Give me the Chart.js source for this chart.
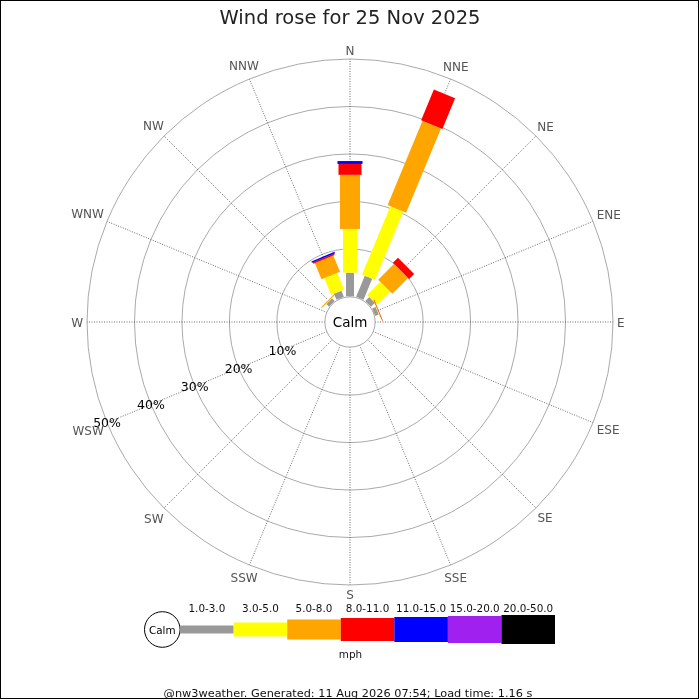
<!DOCTYPE html>
<html>
<head>
<meta charset="utf-8">
<title>Wind rose</title>
<script src="https://cdn.jsdelivr.net/npm/chart.js@4/dist/chart.umd.min.js"></script>
<style>
    html, body { margin: 0; padding: 0; background: #fff; }
    #wrap { width: 700px; height: 700px; }
</style>
</head>
<body>
<div id="wrap"><canvas id="rose" width="700" height="700"></canvas></div>
<script>
// Wind rose, 25 Nov 2025 - percentage of time per direction and speed band

const directions = ['N', 'NNE', 'NE', 'ENE', 'E', 'ESE', 'SE', 'SSE', 'S', 'SSW', 'SW', 'WSW', 'W', 'WNW', 'NW', 'NNW'];
const speedBands = ['1.0-3.0', '3.0-5.0', '5.0-8.0', '8.0-11.0', '11.0-15.0', '15.0-20.0', '20.0-50.0'];

// % of time, one value per direction (N first, clockwise)
const speed1to3   = [5.0, 4.8, 1.2, 0.8, 0, 0, 0, 0, 0, 0, 0, 0, 0, 0, 0.8, 1.4];
const speed3to5   = [9.2, 15.6, 3.9, 0.1, 0, 0, 0, 0, 0, 0, 0, 0, 0, 0, 0.1, 3.8];
const speed5to8   = [11.4, 19.2, 4.7, 0.1, 0, 0, 0, 0, 0, 0, 0, 0, 0, 0, 0.2, 3.7];
const speed8to11  = [2.3, 7.0, 1.5, 0.1, 0, 0, 0, 0, 0, 0, 0, 0, 0, 0, 0, 0.3];
const speed11to15 = [0.6, 0, 0, 0, 0, 0, 0, 0, 0, 0, 0, 0, 0, 0, 0, 0.3];
const speed15to20 = [0, 0, 0, 0, 0, 0, 0, 0, 0, 0, 0, 0, 0, 0, 0, 0];
const speed20to50 = [0, 0, 0, 0, 0, 0, 0, 0, 0, 0, 0, 0, 0, 0, 0, 0];

const ringTicks = [10, 20, 30, 40, 50];

const bandColors = ['#999999', '#ffff00', '#ffa500', '#ff0000', '#0000ff', '#a020f0', '#000000'];
const bandWidths = [8, 14, 20, 23, 25, 27, 29];

Chart.defaults.font.family = 'DejaVu Sans';

const FONT = 'DejaVu Sans';
const TEXT_DY = 1.5; // 'middle' baseline sits a touch high for DejaVu

const windRosePlugin = {
    id: 'windRose',
    beforeDraw(chart) {
        const ctx = chart.ctx;
        ctx.save();
        ctx.fillStyle = '#fff';
        ctx.fillRect(0, 0, chart.width, chart.height);
        ctx.restore();
    },
    afterDatasetsDraw(chart) {
        const ctx = chart.ctx;
        const scale = chart.scales.r;

        // stacked bars, one rectangle per speed band
        directions.forEach((dir, i) => {
            let base = 0;
            chart.data.datasets.forEach((ds, b) => {
                const v = ds.data[i];
                if (v > 0) {
                    const r0 = scale.getDistanceFromCenterForValue(base);
                    const r1 = scale.getDistanceFromCenterForValue(base + v);
                    const w = bandWidths[b];
                    ctx.save();
                    ctx.translate(scale.xCenter, scale.yCenter);
                    ctx.rotate(scale.getIndexAngle(i));
                    ctx.fillStyle = bandColors[b];
                    ctx.fillRect(-w / 2, -r1, w, r1 - r0);
                    ctx.restore();
                }
                base += v;
            });
        });

        // calm circle in the middle
        const calmR = scale.getDistanceFromCenterForValue(0);
        ctx.save();
        ctx.beginPath();
        ctx.arc(scale.xCenter, scale.yCenter, calmR - 0.5, 0, Math.PI * 2);
        ctx.fillStyle = '#fff';
        ctx.fill();
        ctx.strokeStyle = '#aaa';
        ctx.lineWidth = 1;
        ctx.stroke();
        ctx.fillStyle = '#000';
        ctx.font = '13.5px ' + FONT;
        ctx.textAlign = 'center';
        ctx.textBaseline = 'middle';
        ctx.fillText('Calm', scale.xCenter, scale.yCenter + TEXT_DY);

        // ring labels along the WSW spoke
        const wsw = directions.indexOf('WSW');
        ctx.font = '12.5px ' + FONT;
        ringTicks.forEach(t => {
            const p = scale.getPointPosition(wsw, scale.getDistanceFromCenterForValue(t));
            ctx.fillText(t + '%', p.x, p.y + TEXT_DY);
        });

        // compass labels
        ctx.font = '12px ' + FONT;
        ctx.fillStyle = '#555';
        directions.forEach((dir, i) => {
            const a = scale.getIndexAngle(i);
            const w = ctx.measureText(dir).width;
            const r = scale.drawingArea + 4 + Math.abs(Math.sin(a)) * w / 2 + Math.abs(Math.cos(a)) * 5;
            const p = scale.getPointPosition(i, r);
            ctx.fillText(dir, p.x, p.y + TEXT_DY);
        });
        ctx.restore();
    },
    afterDraw(chart) {
        const ctx = chart.ctx;
        ctx.save();

        // speed legend
        const cy = 629.5;
        const calmX = 162.3, calmR = 17.8;
        ctx.beginPath();
        ctx.arc(calmX, cy, calmR, 0, Math.PI * 2);
        ctx.strokeStyle = '#000';
        ctx.lineWidth = 1;
        ctx.stroke();
        ctx.fillStyle = '#000';
        ctx.font = '10.4px ' + FONT;
        ctx.textAlign = 'center';
        ctx.textBaseline = 'middle';
        ctx.fillText('Calm', calmX, cy + TEXT_DY);

        const x0 = calmX + calmR;
        const segW = (555 - x0) / speedBands.length;
        speedBands.forEach((band, b) => {
            const x = x0 + b * segW;
            const h = bandWidths[b];
            ctx.fillStyle = bandColors[b];
            ctx.fillRect(x, cy - h / 2, segW, h);
            ctx.fillStyle = '#111';
            ctx.fillText(band, x + segW / 2, 607.5 + TEXT_DY);
        });
        ctx.fillText('mph', 350.5, 653.5 + TEXT_DY);

        // footer
        ctx.font = '11.3px ' + FONT;
        ctx.fillStyle = '#111';
        ctx.fillText('@nw3weather. Generated: 11 Aug 2026 07:54; Load time: 1.16 s', 348, 692.5 + TEXT_DY);

        // frame
        ctx.strokeStyle = '#000';
        ctx.lineWidth = 1;
        ctx.strokeRect(0.5, 0.5, 698, 698);
        ctx.restore();
    }
};

const speedSeries = [speed1to3, speed3to5, speed5to8, speed8to11, speed11to15, speed15to20, speed20to50];

new Chart(document.getElementById('rose'), {
    type: 'radar',
    data: {
        labels: directions,
        datasets: speedSeries.map((values, b) => ({
            label: speedBands[b],
            data: values,
            borderColor: 'transparent',
            backgroundColor: 'transparent',
            pointRadius: 0,
            pointHoverRadius: 0,
            showLine: false,
            fill: false
        }))
    },
    options: {
        responsive: false,
        animation: false,
        events: [],
        layout: {
            padding: { left: 87, right: 87, top: 0, bottom: 115 }
        },
        plugins: {
            legend: { display: false },
            tooltip: { enabled: false },
            title: {
                display: true,
                text: 'Wind rose for 25 Nov 2025',
                color: '#222',
                font: { size: 19.5, weight: 'normal' },
                padding: { top: 7.5, bottom: 28.1 }
            }
        },
        scales: {
            r: {
                min: -5.4,
                max: 50,
                afterBuildTicks(scale) {
                    scale.ticks = ringTicks.map(v => ({ value: v }));
                },
                ticks: { display: false },
                pointLabels: { display: false },
                grid: {
                    circular: true,
                    color: '#aaa',
                    lineWidth: 1
                },
                angleLines: {
                    color: '#444',
                    lineWidth: 0.8,
                    borderDash: [1, 1.5]
                }
            }
        }
    },
    plugins: [windRosePlugin]
});
</script>
</body>
</html>
